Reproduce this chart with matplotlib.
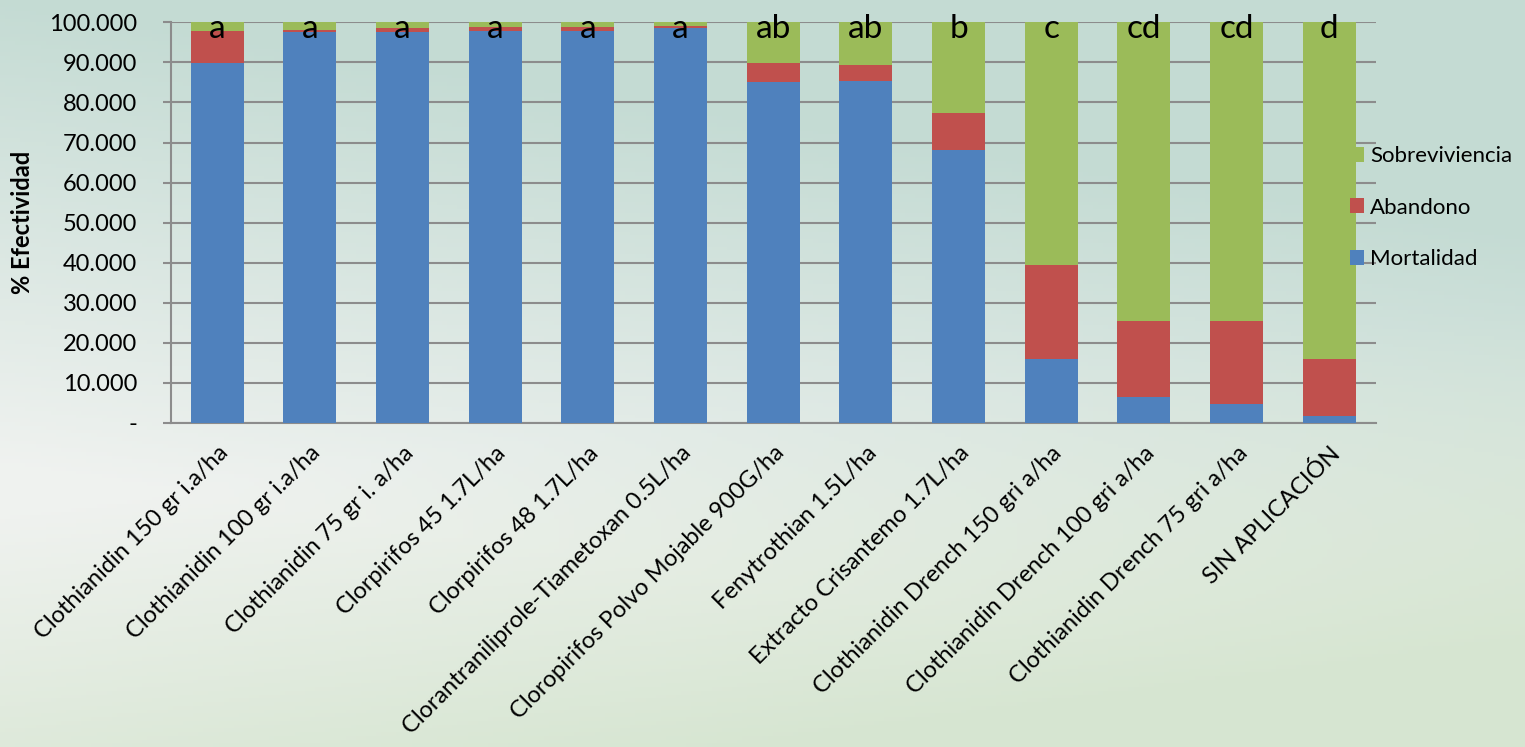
import numpy as np
import matplotlib
matplotlib.use("Agg")
import matplotlib.pyplot as plt
from matplotlib.ticker import FuncFormatter

# data
tratamientos = [
    "Clothianidin 150 gr i.a/ha",
    "Clothianidin 100 gr i.a/ha",
    "Clothianidin 75 gr i. a/ha",
    "Clorpirifos 45 1.7L/ha",
    "Clorpirifos 48 1.7L/ha",
    "Clorantraniliprole-Tiametoxan 0.5L/ha",
    "Cloropirifos Polvo Mojable 900G/ha",
    "Fenytrothian 1.5L/ha",
    "Extracto Crisantemo 1.7L/ha",
    "Clothianidin Drench 150 gri a/ha",
    "Clothianidin Drench 100 gri a/ha",
    "Clothianidin Drench 75 gri a/ha",
    "SIN APLICACIÓN",
]
mortalidad = [89.9, 97.6, 97.6, 97.8, 97.8, 98.7, 85.0, 85.4, 68.1, 16.0, 6.4, 4.8, 1.8]
abandono = [7.9, 0.5, 0.9, 1.0, 1.0, 0.4, 4.9, 3.9, 9.3, 23.4, 19.1, 20.7, 14.1]
sobreviviencia = [100 - m - a for m, a in zip(mortalidad, abandono)]
letras = ["a", "a", "a", "a", "a", "a", "ab", "ab", "b", "c", "cd", "cd", "d"]

plt.rcParams["font.family"] = ["Lato", "DejaVu Sans"]

fig = plt.figure(figsize=(15.25, 7.47), dpi=100)

# background gradient (decorative)
bg = fig.add_axes([0, 0, 1, 1], zorder=-10)
yy, xx = np.mgrid[0:1:200j, 0:1:300j]
top = np.array([0.77, 0.86, 0.83])
mid = np.array([0.94, 0.95, 0.94])
low = np.array([0.84, 0.90, 0.82])
t = np.clip(yy * 1.6 - xx * 0.5, 0, 1)[..., None]
u = np.clip((yy - 0.55) * 2.2 + xx * 0.6 - 0.3, 0, 1)[..., None]
img = top * (1 - t) + mid * t
img = img * (1 - u) + low * u
bg.imshow(img, aspect="auto", extent=[0, 1, 0, 1], origin="upper")
bg.axis("off")

ax = fig.add_axes([0.112, 0.434, 0.790, 0.536])
ax.set_facecolor("none")

x = np.arange(len(tratamientos))
w = 0.57
b1 = ax.bar(x, mortalidad, w, color="#4f81bd", label="Mortalidad", zorder=3)
b2 = ax.bar(x, abandono, w, bottom=mortalidad, color="#c0504d", label="Abandono", zorder=3)
base3 = [m + a for m, a in zip(mortalidad, abandono)]
b3 = ax.bar(x, sobreviviencia, w, bottom=base3, color="#9bbb59", label="Sobreviviencia", zorder=3)

for xi, l in zip(x, letras):
    ax.text(xi, 96, l, ha="center", va="baseline", fontsize=24, zorder=5)

ax.set_xlim(-0.5, len(tratamientos) - 0.5)
ax.set_ylim(0, 100)
ax.set_yticks(np.arange(0, 101, 10))
ax.yaxis.set_major_formatter(FuncFormatter(lambda v, p: "-" if v == 0 else f"{v:.3f}"))
ax.tick_params(axis="y", labelsize=17, length=6, color="#8c8c8c", width=1.5, pad=18)
ax.tick_params(axis="x", length=0, pad=14)
ax.set_xticks(x)
ax.set_xticklabels(tratamientos, rotation=45, ha="right", rotation_mode="anchor", fontsize=17)
ax.grid(axis="y", color="#8c8c8c", lw=1.5, zorder=0)
for s in ["top", "right"]:
    ax.spines[s].set_visible(False)
ax.spines["left"].set_color("#8c8c8c")
ax.spines["left"].set_linewidth(1.5)
ax.spines["bottom"].set_color("#8c8c8c")
ax.spines["bottom"].set_linewidth(1.5)
ax.set_ylabel("% Efectividad", fontsize=17, fontweight="bold", labelpad=11)

ax.legend(handles=[b3, b2, b1], loc="center left", bbox_to_anchor=(0.872, 0.722),
          bbox_transform=fig.transFigure, frameon=False, fontsize=16,
          handlelength=0.65, handleheight=0.65, handletextpad=0.25, labelspacing=1.42)

fig.savefig("out.png", dpi=100)
